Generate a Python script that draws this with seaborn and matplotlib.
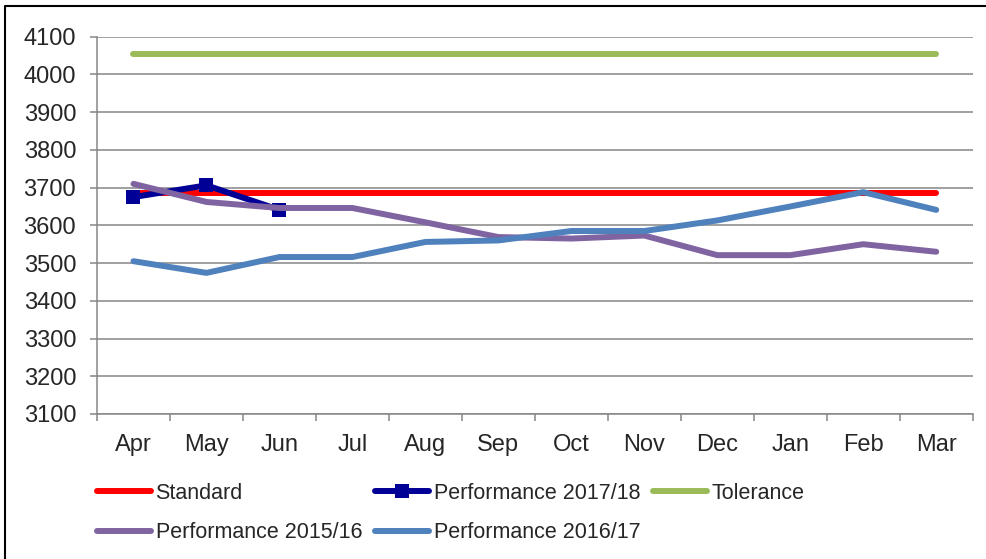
import numpy as np
import pandas as pd
import seaborn as sns
import matplotlib
matplotlib.use("Agg")
import matplotlib.pyplot as plt
from matplotlib.lines import Line2D

# dados
meses = ['Apr', 'May', 'Jun', 'Jul', 'Aug', 'Sep', 'Oct', 'Nov', 'Dec', 'Jan', 'Feb', 'Mar']
standard = [3686, 3686, 3686, 3686, 3686, 3686, 3686, 3686, 3686, 3686, 3686, 3686]
tolerance = [4054, 4054, 4054, 4054, 4054, 4054, 4054, 4054, 4054, 4054, 4054, 4054]
perf_1718 = [3675, 3706, 3641]
perf_1516 = [3710, 3662, 3646, 3646, 3608, 3569, 3565, 3573, 3521, 3521, 3550, 3530]
perf_1617 = [3505, 3474, 3516, 3516, 3556, 3560, 3585, 3585, 3613, 3650, 3688, 3641]

sns.set_theme(style='white')
plt.rcParams['font.family'] = ['Liberation Sans', 'DejaVu Sans']

fig = plt.figure(figsize=(9.86, 5.59), dpi=100)
ax = fig.add_axes([97 / 986, 1 - 414 / 559, (972.7 - 97) / 986, (414 - 36.7) / 559])

x = np.arange(len(meses))
lw = 4.3
series = [
    ('Standard', x, standard, '#FF0000', None),
    ('Performance 2017/18', x[:len(perf_1718)], perf_1718, '#000096', 's'),
    ('Tolerance', x, tolerance, '#9BBB59', None),
    ('Performance 2015/16', x, perf_1516, '#8064A2', None),
    ('Performance 2016/17', x, perf_1617, '#4F81BD', None),
]
handles = {}
for nome, xs, ys, cor, mk in series:
    df = pd.DataFrame({'x': xs, 'y': ys})
    kw = dict(marker=mk, markersize=9.5, markeredgewidth=0) if mk else {}
    sns.lineplot(data=df, x='x', y='y', ax=ax, color=cor, linewidth=lw,
                 solid_capstyle='round', label=nome, **kw)
    handles[nome] = ax.lines[-1]

grid_cor = '#868686'
ax.set_xlim(-0.5, len(meses) - 0.5)
ax.set_ylim(3100, 4100)
ax.set_yticks(np.arange(3100, 4101, 100))
ax.yaxis.grid(True, color=grid_cor, linewidth=1.1)
ax.set_axisbelow(True)
ax.set_xticks(np.arange(-0.5, len(meses), 1.0))
ax.set_xticklabels([])
ax.set_xticks(x, minor=True)
ax.set_xticklabels(meses, minor=True)
ax.tick_params(axis='x', which='major', length=5, width=1.1, color=grid_cor, direction='out', bottom=True)
ax.tick_params(axis='x', which='minor', length=0, pad=14.5, labelsize=17)
ax.tick_params(axis='y', length=5, width=1.1, color=grid_cor, direction='out', left=True, pad=10, labelsize=17)
ax.set_xlabel('')
ax.set_ylabel('')
for s in ['top', 'right']:
    ax.spines[s].set_visible(False)
for s in ['left', 'bottom']:
    ax.spines[s].set_color(grid_cor)
    ax.spines[s].set_linewidth(1.1)

ordem = ['Standard', 'Performance 2015/16', 'Performance 2017/18', 'Performance 2016/17', 'Tolerance']
ax.legend([handles[n] for n in ordem], ordem, ncol=3, frameon=False,
          loc='upper left', bbox_to_anchor=(97 / 986, 1 - 483 / 559),
          bbox_transform=fig.transFigure, borderpad=0, borderaxespad=0,
          fontsize=15.5, handlelength=2.5, handletextpad=0.22,
          columnspacing=0.6, labelspacing=0.85, numpoints=1)

# moldura externa
fig.add_artist(Line2D([5 / 986, 5 / 986, 1], [0, 1 - 6 / 559, 1 - 6 / 559],
                      transform=fig.transFigure, color='black', linewidth=1.5))

fig.savefig('out.png', dpi=100)
